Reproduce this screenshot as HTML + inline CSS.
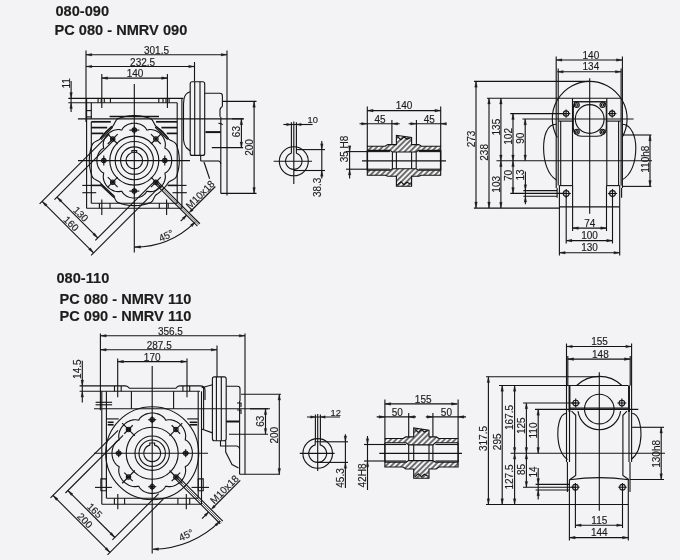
<!DOCTYPE html>
<html><head><meta charset="utf-8"><style>
html,body{margin:0;padding:0;background:#f3f3f5;}
body{width:680px;height:560px;overflow:hidden;}
svg{display:block;will-change:transform;}
svg text{font-family:"Liberation Sans",sans-serif;fill:#1c1c1c;stroke:#1c1c1c;stroke-width:0.15;}
svg .a{fill:#1c1c1c;stroke:#1c1c1c;stroke-width:0.3;}
</style></head><body>
<svg width="680" height="560" viewBox="0 0 680 560" fill="none" stroke="#141414" stroke-width="1.12">
<defs><pattern id="hat" width="3.8" height="3.8" patternUnits="userSpaceOnUse" patternTransform="rotate(45)"><line x1="1.9" y1="-1" x2="1.9" y2="5" stroke="#141414" stroke-width="1.15"/></pattern></defs>
<text x="55.5" y="16" text-anchor="start" style="font-size:14.6px;font-weight:bold">080-090</text>
<text x="54.5" y="35.3" text-anchor="start" style="font-size:14.6px;font-weight:bold">PC 080 - NMRV 090</text>
<text x="56.5" y="283.4" text-anchor="start" style="font-size:14.6px;font-weight:bold">080-110</text>
<text x="59.5" y="303.8" text-anchor="start" style="font-size:14.6px;font-weight:bold">PC 080 - NMRV 110</text>
<text x="59.5" y="321" text-anchor="start" style="font-size:14.6px;font-weight:bold">PC 090 - NMRV 110</text>
<line x1="86" y1="54.7" x2="227" y2="54.7"/>
<path class="a" d="M86,54.7 L91.8,53.4 L91.8,56 Z"/>
<path class="a" d="M227,54.7 L221.2,56 L221.2,53.4 Z"/>
<text x="156.5" y="53.6" text-anchor="middle" style="font-size:10px">301.5</text>
<line x1="86" y1="66.5" x2="194.5" y2="66.5"/>
<path class="a" d="M86,66.5 L91.8,65.2 L91.8,67.8 Z"/>
<path class="a" d="M194.5,66.5 L188.7,67.8 L188.7,65.2 Z"/>
<text x="142.6" y="65.6" text-anchor="middle" style="font-size:10px">232.5</text>
<line x1="101.8" y1="78.1" x2="167.4" y2="78.1"/>
<path class="a" d="M101.8,78.1 L107.6,76.8 L107.6,79.4 Z"/>
<path class="a" d="M167.4,78.1 L161.6,79.4 L161.6,76.8 Z"/>
<text x="135" y="77" text-anchor="middle" style="font-size:10px">140</text>
<line x1="86" y1="50.5" x2="86" y2="122"/>
<line x1="227" y1="50.5" x2="227" y2="195.5"/>
<line x1="194.5" y1="62" x2="194.5" y2="81"/>
<line x1="101.8" y1="74" x2="101.8" y2="108"/>
<line x1="167.4" y1="74" x2="167.4" y2="108"/>
<line x1="68.3" y1="98.4" x2="183.5" y2="98.4"/>
<line x1="68.3" y1="102.8" x2="177.2" y2="102.8"/>
<line x1="71.1" y1="81" x2="71.1" y2="112"/>
<path class="a" d="M71.1,98.4 L69.8,92.6 L72.4,92.6 Z"/>
<path class="a" d="M71.1,102.8 L72.4,108.6 L69.8,108.6 Z"/>
<text transform="translate(69.9,83.4) rotate(-90)" text-anchor="middle" style="font-size:10px">11</text>
<line x1="98.1" y1="98.4" x2="98.1" y2="102.8"/>
<line x1="110.4" y1="98.4" x2="110.4" y2="102.8"/>
<line x1="158.8" y1="98.4" x2="158.8" y2="102.8"/>
<line x1="169.1" y1="98.4" x2="169.1" y2="102.8"/>
<line x1="101.2" y1="98.4" x2="101.2" y2="102.8"/>
<line x1="104.3" y1="98.4" x2="104.3" y2="102.8"/>
<line x1="163" y1="98.4" x2="163" y2="102.8"/>
<line x1="166" y1="98.4" x2="166" y2="102.8"/>
<line x1="86.6" y1="98.4" x2="86.6" y2="208.3"/>
<line x1="91.3" y1="102.8" x2="91.3" y2="118.8"/>
<line x1="91.3" y1="121.8" x2="91.3" y2="203.2"/>
<line x1="77.9" y1="118.9" x2="244" y2="118.9"/>
<line x1="177.2" y1="102.8" x2="177.2" y2="203.2"/>
<line x1="181.9" y1="98.4" x2="181.9" y2="208.3"/>
<line x1="86.6" y1="208.3" x2="181.9" y2="208.3"/>
<line x1="91.3" y1="203.2" x2="177.2" y2="203.2"/>
<line x1="86.6" y1="110.6" x2="91.3" y2="110.6"/>
<line x1="86.6" y1="116.9" x2="91.3" y2="116.9"/>
<line x1="82.3" y1="185.4" x2="91.3" y2="185.4"/>
<line x1="82.3" y1="192.7" x2="96.2" y2="192.7"/>
<line x1="177.2" y1="185.4" x2="186.5" y2="185.4"/>
<line x1="172.5" y1="192.7" x2="186.8" y2="192.7"/>
<line x1="91.3" y1="185.4" x2="101" y2="185.4" stroke-width="1.6"/>
<line x1="167.6" y1="185.4" x2="177.2" y2="185.4" stroke-width="1.6"/>
<line x1="91.3" y1="121.8" x2="110.8" y2="121.8" stroke-width="1.7"/>
<line x1="156" y1="121.8" x2="177.2" y2="121.8" stroke-width="1.7"/>
<line x1="91.3" y1="127.6" x2="107.2" y2="127.6" stroke-width="1.7"/>
<line x1="161.4" y1="127.6" x2="177.2" y2="127.6" stroke-width="1.7"/>
<line x1="91.3" y1="133.4" x2="103.5" y2="133.4" stroke-width="1.7"/>
<line x1="166.8" y1="133.4" x2="177.2" y2="133.4" stroke-width="1.7"/>
<line x1="100.1" y1="138.75" x2="111.7" y2="126.25"/>
<line x1="101.05" y1="139.63" x2="112.65" y2="127.13"/>
<line x1="156" y1="126.25" x2="168.6" y2="138.75"/>
<line x1="155.08" y1="127.17" x2="167.68" y2="139.67"/>
<line x1="101" y1="183.75" x2="114.8" y2="196.7"/>
<line x1="100.11" y1="184.7" x2="113.91" y2="197.65"/>
<line x1="109.6" y1="116.4" x2="159" y2="116.4" stroke-width="1.5"/>
<line x1="134.3" y1="84" x2="134.3" y2="252.5"/>
<line x1="78" y1="160.6" x2="190" y2="160.6"/>
<path d="M134.3,115.6 L135.87,115.63 L137.44,115.71 L139,115.85 L140.56,116.04 L142.11,116.28 L143.66,116.58 L145.19,116.94 L146.7,117.34 L148.21,117.8 L149.69,118.31 L151.12,118.96 L152.32,120.13 L153.28,121.68 L154.11,123.35 L154.9,124.92 L155.81,126.18 L156.95,127.02 L158.11,127.83 L159.23,128.69 L160.33,129.58 L161.4,130.5 L162.43,131.47 L163.43,132.47 L164.4,133.5 L165.32,134.57 L166.21,135.67 L167.07,136.79 L167.88,137.95 L168.72,139.09 L169.98,140 L171.55,140.79 L173.22,141.62 L174.77,142.58 L175.94,143.78 L176.59,145.21 L177.1,146.69 L177.56,148.2 L177.96,149.71 L178.32,151.24 L178.62,152.79 L178.86,154.34 L179.05,155.9 L179.19,157.46 L179.27,159.03 L179.3,160.6 L179.27,162.17 L179.19,163.74 L179.05,165.3 L178.86,166.86 L178.62,168.41 L178.32,169.96 L177.96,171.49 L177.56,173 L177.1,174.51 L176.59,175.99 L175.94,177.42 L174.77,178.62 L173.22,179.58 L171.55,180.41 L169.98,181.2 L168.72,182.11 L167.88,183.25 L167.07,184.41 L166.21,185.53 L165.32,186.63 L164.4,187.7 L163.43,188.73 L162.43,189.73 L161.4,190.7 L160.33,191.62 L159.23,192.51 L158.11,193.37 L156.95,194.18 L155.81,195.02 L154.9,196.28 L154.11,197.85 L153.28,199.52 L152.32,201.07 L151.12,202.24 L149.69,202.89 L148.21,203.4 L146.7,203.86 L145.19,204.26 L143.66,204.62 L142.11,204.92 L140.56,205.16 L139,205.35 L137.44,205.49 L135.87,205.57 L134.3,205.6 L132.73,205.57 L131.16,205.49 L129.6,205.35 L128.04,205.16 L126.49,204.92 L124.94,204.62 L123.41,204.26 L121.9,203.86 L120.39,203.4 L118.91,202.89 L117.48,202.24 L116.28,201.07 L115.32,199.52 L114.49,197.85 L113.7,196.28 L112.79,195.02 L111.65,194.18 L110.49,193.37 L109.37,192.51 L108.27,191.62 L107.2,190.7 L106.17,189.73 L105.17,188.73 L104.2,187.7 L103.28,186.63 L102.39,185.53 L101.53,184.41 L100.72,183.25 L99.88,182.11 L98.62,181.2 L97.05,180.41 L95.38,179.58 L93.83,178.62 L92.66,177.42 L92.01,175.99 L91.5,174.51 L91.04,173 L90.64,171.49 L90.28,169.96 L89.98,168.41 L89.74,166.86 L89.55,165.3 L89.41,163.74 L89.33,162.17 L89.3,160.6 L89.33,159.03 L89.41,157.46 L89.55,155.9 L89.74,154.34 L89.98,152.79 L90.28,151.24 L90.64,149.71 L91.04,148.2 L91.5,146.69 L92.01,145.21 L92.66,143.78 L93.83,142.58 L95.38,141.62 L97.05,140.79 L98.62,140 L99.88,139.09 L100.72,137.95 L101.53,136.79 L102.39,135.67 L103.28,134.57 L104.2,133.5 L105.17,132.47 L106.17,131.47 L107.2,130.5 L108.27,129.58 L109.37,128.69 L110.49,127.83 L111.65,127.02 L112.79,126.18 L113.7,124.92 L114.49,123.35 L115.32,121.68 L116.28,120.13 L117.48,118.96 L118.91,118.31 L120.39,117.8 L121.9,117.34 L123.41,116.94 L124.94,116.58 L126.49,116.28 L128.04,116.04 L129.6,115.85 L131.16,115.71 L132.73,115.63 Z"/>
<path d="M134.3,123.2 L135.6,123.25 L136.9,123.41 L138.18,123.67 L139.44,124.03 L140.67,124.5 L141.85,125.06 L142.99,125.74 L144.07,126.52 L145.08,127.44 L145.98,128.51 L146.69,129.94 L148,129.82 L149.44,129.56 L150.81,129.54 L152.15,129.68 L153.45,129.95 L154.71,130.34 L155.93,130.83 L157.1,131.41 L158.22,132.09 L159.28,132.86 L160.28,133.7 L161.2,134.62 L162.04,135.62 L162.81,136.68 L163.49,137.8 L164.07,138.97 L164.56,140.19 L164.95,141.45 L165.22,142.75 L165.36,144.09 L165.34,145.46 L165.08,146.9 L164.96,148.21 L166.39,148.92 L167.46,149.82 L168.38,150.83 L169.16,151.91 L169.84,153.05 L170.4,154.23 L170.87,155.46 L171.23,156.72 L171.49,158 L171.65,159.3 L171.7,160.6 L171.65,161.9 L171.49,163.2 L171.23,164.48 L170.87,165.74 L170.4,166.97 L169.84,168.15 L169.16,169.29 L168.38,170.37 L167.46,171.38 L166.39,172.28 L164.96,172.99 L165.08,174.3 L165.34,175.74 L165.36,177.11 L165.22,178.45 L164.95,179.75 L164.56,181.01 L164.07,182.23 L163.49,183.4 L162.81,184.52 L162.04,185.58 L161.2,186.58 L160.28,187.5 L159.28,188.34 L158.22,189.11 L157.1,189.79 L155.93,190.37 L154.71,190.86 L153.45,191.25 L152.15,191.52 L150.81,191.66 L149.44,191.64 L148,191.38 L146.69,191.26 L145.98,192.69 L145.08,193.76 L144.07,194.68 L142.99,195.46 L141.85,196.14 L140.67,196.7 L139.44,197.17 L138.18,197.53 L136.9,197.79 L135.6,197.95 L134.3,198 L133,197.95 L131.7,197.79 L130.42,197.53 L129.16,197.17 L127.93,196.7 L126.75,196.14 L125.61,195.46 L124.53,194.68 L123.52,193.76 L122.62,192.69 L121.91,191.26 L120.6,191.38 L119.16,191.64 L117.79,191.66 L116.45,191.52 L115.15,191.25 L113.89,190.86 L112.67,190.37 L111.5,189.79 L110.38,189.11 L109.32,188.34 L108.32,187.5 L107.4,186.58 L106.56,185.58 L105.79,184.52 L105.11,183.4 L104.53,182.23 L104.04,181.01 L103.65,179.75 L103.38,178.45 L103.24,177.11 L103.26,175.74 L103.52,174.3 L103.64,172.99 L102.21,172.28 L101.14,171.38 L100.22,170.37 L99.44,169.29 L98.76,168.15 L98.2,166.97 L97.73,165.74 L97.37,164.48 L97.11,163.2 L96.95,161.9 L96.9,160.6 L96.95,159.3 L97.11,158 L97.37,156.72 L97.73,155.46 L98.2,154.23 L98.76,153.05 L99.44,151.91 L100.22,150.83 L101.14,149.82 L102.21,148.92 L103.64,148.21 L103.52,146.9 L103.26,145.46 L103.24,144.09 L103.38,142.75 L103.65,141.45 L104.04,140.19 L104.53,138.97 L105.11,137.8 L105.79,136.68 L106.56,135.62 L107.4,134.62 L108.32,133.7 L109.32,132.86 L110.38,132.09 L111.5,131.41 L112.67,130.83 L113.89,130.34 L115.15,129.95 L116.45,129.68 L117.79,129.54 L119.16,129.56 L120.6,129.82 L121.91,129.94 L122.62,128.51 L123.52,127.44 L124.53,126.52 L125.61,125.74 L126.75,125.06 L127.93,124.5 L129.16,124.03 L130.42,123.67 L131.7,123.41 L133,123.25 Z"/>
<circle cx="134.3" cy="160.6" r="8.3"/>
<circle cx="134.3" cy="160.6" r="13.7"/>
<circle cx="134.3" cy="160.6" r="19.1"/>
<circle cx="134.3" cy="160.6" r="24.5"/>
<path d="M131.9,152.65 L131.9,150.6 L136.7,150.6 L136.7,152.65"/>
<circle cx="134.3" cy="130.1" r="1" fill="#1c1c1c"/>
<circle cx="134.3" cy="130.1" r="2.2"/>
<line x1="129.3" y1="130.1" x2="139.3" y2="130.1"/>
<line x1="134.3" y1="133.6" x2="134.3" y2="126.6"/>
<circle cx="155.87" cy="139.03" r="1" fill="#1c1c1c"/>
<circle cx="155.87" cy="139.03" r="2.2"/>
<line x1="150.92" y1="143.98" x2="160.82" y2="134.08"/>
<line x1="150.92" y1="134.08" x2="160.82" y2="143.98"/>
<circle cx="164.8" cy="160.6" r="1" fill="#1c1c1c"/>
<circle cx="164.8" cy="160.6" r="2.2"/>
<line x1="164.8" y1="155.6" x2="164.8" y2="165.6"/>
<line x1="161.3" y1="160.6" x2="168.3" y2="160.6"/>
<circle cx="155.87" cy="182.17" r="1" fill="#1c1c1c"/>
<circle cx="155.87" cy="182.17" r="2.2"/>
<line x1="150.92" y1="177.22" x2="160.82" y2="187.12"/>
<line x1="160.82" y1="177.22" x2="150.92" y2="187.12"/>
<circle cx="134.3" cy="191.1" r="1" fill="#1c1c1c"/>
<circle cx="134.3" cy="191.1" r="2.2"/>
<line x1="139.3" y1="191.1" x2="129.3" y2="191.1"/>
<line x1="134.3" y1="187.6" x2="134.3" y2="194.6"/>
<circle cx="112.73" cy="182.17" r="1" fill="#1c1c1c"/>
<circle cx="112.73" cy="182.17" r="2.2"/>
<line x1="117.68" y1="177.22" x2="107.78" y2="187.12"/>
<line x1="117.68" y1="187.12" x2="107.78" y2="177.22"/>
<circle cx="103.8" cy="160.6" r="1" fill="#1c1c1c"/>
<circle cx="103.8" cy="160.6" r="2.2"/>
<line x1="103.8" y1="165.6" x2="103.8" y2="155.6"/>
<line x1="107.3" y1="160.6" x2="100.3" y2="160.6"/>
<circle cx="112.73" cy="139.03" r="1" fill="#1c1c1c"/>
<circle cx="112.73" cy="139.03" r="2.2"/>
<line x1="117.68" y1="143.98" x2="107.78" y2="134.08"/>
<line x1="107.78" y1="143.98" x2="117.68" y2="134.08"/>
<line x1="99.4" y1="203.2" x2="99.4" y2="208.3"/>
<line x1="110" y1="203.2" x2="110" y2="208.3"/>
<line x1="101.8" y1="199.4" x2="101.8" y2="215"/>
<line x1="159.3" y1="203.2" x2="159.3" y2="208.3"/>
<line x1="168.2" y1="203.2" x2="168.2" y2="208.3"/>
<line x1="166.6" y1="199.4" x2="166.6" y2="215"/>
<line x1="42.09" y1="201.33" x2="93.57" y2="252.81"/>
<path class="a" d="M42.09,201.33 L47.11,204.51 L45.28,206.35 Z"/>
<path class="a" d="M93.57,252.81 L88.55,249.62 L90.39,247.79 Z"/>
<line x1="109.27" y1="134.15" x2="39.62" y2="203.8"/>
<line x1="160.75" y1="185.63" x2="91.1" y2="255.28"/>
<text transform="translate(68.75,226.15) rotate(45)" text-anchor="middle" style="font-size:10px">160</text>
<line x1="56.94" y1="197.09" x2="97.81" y2="237.96"/>
<path class="a" d="M56.94,197.09 L61.96,200.27 L60.12,202.11 Z"/>
<path class="a" d="M97.81,237.96 L92.79,234.78 L94.63,232.94 Z"/>
<line x1="114.57" y1="139.46" x2="54.47" y2="199.56"/>
<line x1="155.44" y1="180.33" x2="95.34" y2="240.43"/>
<text transform="translate(78.3,216.6) rotate(45)" text-anchor="middle" style="font-size:10px">130</text>
<path d="M194.39,222.82 A86.5,86.5 0 0 1 134.3,247.1"/>
<path class="a" d="M134.8,247.1 L140.56,245.63 L140.64,248.23 Z"/>
<path class="a" d="M195.46,221.76 L192.18,226.72 L190.38,224.84 Z"/>
<text transform="translate(167.5,238.8) rotate(-25)" text-anchor="middle" style="font-size:10px">45°</text>
<line x1="157.42" y1="181.32" x2="199.85" y2="223.74"/>
<line x1="156.22" y1="182.52" x2="198.65" y2="224.95" stroke-width="0.6"/>
<line x1="155.02" y1="183.72" x2="197.44" y2="226.15"/>
<line x1="190.59" y1="211.23" x2="215.33" y2="186.48"/>
<path class="a" d="M188.96,212.86 L191.43,208.54 L193.27,210.38 Z"/>
<line x1="186.56" y1="215.26" x2="180.69" y2="221.13"/>
<path class="a" d="M186.56,215.26 L184.08,219.57 L182.24,217.73 Z"/>
<text transform="translate(202.68,197.16) rotate(-45)" text-anchor="middle" style="font-size:10px">M10x18</text>
<path d="M192.2,81.7 L202.7,81.7 Q204.7,81.7 204.7,83.7 L204.7,153.4 Q204.7,155.4 202.7,155.4 L192.2,155.4 Q190.2,155.4 190.2,153.4 L190.2,83.7 Q190.2,81.7 192.2,81.7 Z"/>
<line x1="194.7" y1="81.7" x2="194.7" y2="155.4"/>
<line x1="200" y1="81.7" x2="200" y2="155.4"/>
<path d="M190.2,91.7 Q185,93 184,99 L183.5,104 L183.5,139.8 Q184,145 186.2,147.5 L190.2,151"/>
<path d="M204.7,93.3 L219.9,93.3 Q222.4,93.3 222.4,96 L222.4,106.5"/>
<line x1="220.8" y1="116.8" x2="220.8" y2="193.4"/>
<path d="M222.4,106.5 Q219.5,108 220,112 L220,116.8 M218.4,123.3 Q222.4,123.5 222.4,125"/>
<line x1="200.7" y1="155.4" x2="200.7" y2="161"/>
<line x1="200.7" y1="161" x2="219" y2="161"/>
<path d="M219,161 Q220.8,162 220.8,164"/>
<line x1="204" y1="162" x2="209.6" y2="178.8"/>
<line x1="205.5" y1="132.1" x2="220.8" y2="132.1" stroke-width="2.0"/>
<line x1="220.8" y1="193.4" x2="256.5" y2="193.4"/>
<line x1="223" y1="101.4" x2="256.5" y2="101.4"/>
<line x1="254.1" y1="101.4" x2="254.1" y2="193.4"/>
<path class="a" d="M254.1,101.4 L255.4,107.2 L252.8,107.2 Z"/>
<path class="a" d="M254.1,193.4 L252.8,187.6 L255.4,187.6 Z"/>
<text transform="translate(252.8,147.5) rotate(-90)" text-anchor="middle" style="font-size:10px">200</text>
<line x1="211.8" y1="147.6" x2="243.1" y2="147.6"/>
<line x1="232" y1="118.8" x2="243.1" y2="118.8"/>
<line x1="241.4" y1="118.9" x2="241.4" y2="147.9"/>
<path class="a" d="M241.4,118.9 L242.7,124.7 L240.1,124.7 Z"/>
<path class="a" d="M241.4,147.9 L240.1,142.1 L242.7,142.1 Z"/>
<text transform="translate(240.1,131.6) rotate(-90)" text-anchor="middle" style="font-size:10px">63</text>
<circle cx="293.8" cy="161.3" r="14.5"/>
<path d="M291.40000000000003,153.3 A8.2,8.2 0 1 0 296.2,153.3"/>
<line x1="291.4" y1="122.3" x2="291.4" y2="153.3"/>
<line x1="296.4" y1="122.3" x2="296.4" y2="153.3"/>
<line x1="273.6" y1="161.3" x2="312" y2="161.3"/>
<line x1="293.8" y1="121.4" x2="293.8" y2="184"/>
<line x1="283.4" y1="124.5" x2="312.6" y2="124.5"/>
<path class="a" d="M291.4,124.5 L286.6,125.8 L286.6,123.2 Z"/>
<path class="a" d="M296.4,124.5 L301.2,123.2 L301.2,125.8 Z"/>
<text x="307.6" y="123.4" text-anchor="start" style="font-size:9.3px">10</text>
<line x1="296.4" y1="149.6" x2="325" y2="149.6"/>
<line x1="293.8" y1="170.5" x2="325" y2="170.5"/>
<line x1="321.8" y1="141" x2="321.8" y2="178.6"/>
<path class="a" d="M321.8,149.6 L320.5,143.8 L323.1,143.8 Z"/>
<path class="a" d="M321.8,170.5 L323.1,176.3 L320.5,176.3 Z"/>
<text transform="translate(320.6,187.3) rotate(-90)" text-anchor="middle" style="font-size:10px">38.3</text>
<line x1="367.3" y1="110.6" x2="440.7" y2="110.6"/>
<path class="a" d="M367.3,110.6 L373.1,109.3 L373.1,111.9 Z"/>
<path class="a" d="M440.7,110.6 L434.9,111.9 L434.9,109.3 Z"/>
<text x="404" y="109.4" text-anchor="middle" style="font-size:10px">140</text>
<line x1="359.5" y1="123.8" x2="399.7" y2="123.8"/>
<path class="a" d="M367.3,123.8 L361.5,125.1 L361.5,122.5 Z"/>
<path class="a" d="M391.9,123.8 L397.7,122.5 L397.7,125.1 Z"/>
<line x1="408.6" y1="123.8" x2="446" y2="123.8"/>
<path class="a" d="M416.4,123.8 L410.6,125.1 L410.6,122.5 Z"/>
<path class="a" d="M440.7,123.8 L446.5,122.5 L446.5,125.1 Z"/>
<text x="380" y="122.5" text-anchor="middle" style="font-size:10px">45</text>
<text x="429.2" y="122.5" text-anchor="middle" style="font-size:10px">45</text>
<line x1="367.3" y1="106.5" x2="367.3" y2="146.2"/>
<line x1="440.7" y1="106.5" x2="440.7" y2="146.2"/>
<line x1="391.9" y1="120" x2="391.9" y2="144.6"/>
<line x1="416.4" y1="120" x2="416.4" y2="144.6"/>
<path d="M367.3,146.2 L385.1,146.2 L387.8,144.6 L396.4,144.6 L396.4,135.3 L411.6,137.5 L411.6,144.6 L418.8,144.6 L421.5,146.2 L440.7,146.2 L440.7,150.4 L418.7,150.4 L416.2,152 L392.4,152 L389.9,150.4 L367.3,150.4 Z" fill="url(#hat)"/>
<path d="M367.3,170.3 L389.9,170.3 L392.4,168.8 L416.2,168.8 L418.7,170.3 L440.7,170.3 L440.7,175.2 L421.5,175.2 L418.8,176.3 L411.6,176.3 L411.6,186.2 L396.4,186.2 L396.4,176.3 L387.8,176.3 L385.1,175.2 L367.3,175.2 Z" fill="url(#hat)"/>
<line x1="367.3" y1="151.6" x2="389.9" y2="151.6"/>
<line x1="418.7" y1="151.6" x2="440.7" y2="151.6"/>
<line x1="367.3" y1="169.2" x2="389.9" y2="169.2"/>
<line x1="418.7" y1="169.2" x2="440.7" y2="169.2"/>
<line x1="367.3" y1="150.4" x2="367.3" y2="170.3" stroke-width="1.6"/>
<line x1="440.7" y1="150.4" x2="440.7" y2="170.3" stroke-width="1.6"/>
<line x1="396.4" y1="152" x2="396.4" y2="168.8"/>
<line x1="411.6" y1="152" x2="411.6" y2="168.8"/>
<line x1="392.4" y1="152" x2="392.4" y2="168.8"/>
<line x1="416.2" y1="152" x2="416.2" y2="168.8"/>
<line x1="362" y1="160.9" x2="446" y2="160.9"/>
<path d="M397.4,136.5 L400.96,139.8 L404,136.8 L407.04,139.3 L410.6,137.8"/>
<path d="M397.4,185 L400.96,181.7 L404,184.7 L407.04,182.2 L410.6,184.2"/>
<line x1="346" y1="151.6" x2="367.3" y2="151.6"/>
<line x1="346" y1="169.2" x2="367.3" y2="169.2"/>
<line x1="349.6" y1="146" x2="349.6" y2="178.4"/>
<path class="a" d="M349.6,151.6 L348.3,145.8 L350.9,145.8 Z"/>
<path class="a" d="M349.6,169.2 L350.9,175 L348.3,175 Z"/>
<text transform="translate(348.4,149) rotate(-90)" text-anchor="middle" style="font-size:10px">35 H8</text>
<line x1="556.1" y1="60" x2="622.2" y2="60"/>
<path class="a" d="M556.1,60 L561.9,58.7 L561.9,61.3 Z"/>
<path class="a" d="M622.2,60 L616.4,61.3 L616.4,58.7 Z"/>
<text x="590.9" y="58.9" text-anchor="middle" style="font-size:10px">140</text>
<line x1="557.4" y1="71.8" x2="621.2" y2="71.8"/>
<path class="a" d="M557.4,71.8 L563.2,70.5 L563.2,73.1 Z"/>
<path class="a" d="M621.2,71.8 L615.4,73.1 L615.4,70.5 Z"/>
<text x="590.9" y="70.3" text-anchor="middle" style="font-size:10px">134</text>
<line x1="556.2" y1="56.5" x2="556.2" y2="188"/>
<line x1="558.2" y1="68.5" x2="558.2" y2="185.6"/>
<line x1="621.1" y1="68.5" x2="621.1" y2="185.6"/>
<line x1="622.4" y1="56.5" x2="622.4" y2="188"/>
<line x1="559.4" y1="185.6" x2="559.4" y2="255.5"/>
<line x1="566.2" y1="196" x2="566.2" y2="243.5"/>
<line x1="572.6" y1="185.6" x2="572.6" y2="231"/>
<line x1="619.7" y1="185.6" x2="619.7" y2="255.5"/>
<line x1="612.5" y1="196" x2="612.5" y2="243.5"/>
<line x1="606.5" y1="185.6" x2="606.5" y2="231"/>
<line x1="557.1" y1="188" x2="557.1" y2="197.8"/>
<line x1="621.6" y1="188" x2="621.6" y2="197.8"/>
<line x1="474" y1="81.4" x2="589.7" y2="81.4"/>
<line x1="487" y1="98.2" x2="558.4" y2="98.2"/>
<line x1="510.2" y1="113.6" x2="566" y2="113.6"/>
<line x1="522.4" y1="119" x2="633.6" y2="119"/>
<line x1="496.5" y1="160.8" x2="652" y2="160.8"/>
<line x1="473.9" y1="208.1" x2="559.4" y2="208.1"/>
<line x1="476" y1="81.4" x2="476" y2="207.9"/>
<path class="a" d="M476,81.4 L477.3,87.2 L474.7,87.2 Z"/>
<path class="a" d="M476,207.9 L474.7,202.1 L477.3,202.1 Z"/>
<text transform="translate(474.8,139) rotate(-90)" text-anchor="middle" style="font-size:10px">273</text>
<line x1="489" y1="98.2" x2="489" y2="207.9"/>
<path class="a" d="M489,98.2 L490.3,104 L487.7,104 Z"/>
<path class="a" d="M489,207.9 L487.7,202.1 L490.3,202.1 Z"/>
<text transform="translate(487.8,152.4) rotate(-90)" text-anchor="middle" style="font-size:10px">238</text>
<line x1="500.9" y1="98.2" x2="500.9" y2="160.8"/>
<path class="a" d="M500.9,98.2 L502.2,104 L499.6,104 Z"/>
<path class="a" d="M500.9,160.8 L499.6,155 L502.2,155 Z"/>
<text transform="translate(499.7,127.1) rotate(-90)" text-anchor="middle" style="font-size:10px">135</text>
<line x1="500.9" y1="160.8" x2="500.9" y2="208.1"/>
<path class="a" d="M500.9,160.8 L502.2,166.6 L499.6,166.6 Z"/>
<path class="a" d="M500.9,208.1 L499.6,202.3 L502.2,202.3 Z"/>
<text transform="translate(499.7,184.3) rotate(-90)" text-anchor="middle" style="font-size:10px">103</text>
<line x1="513" y1="113.6" x2="513" y2="160.8"/>
<path class="a" d="M513,113.6 L514.3,119.4 L511.7,119.4 Z"/>
<path class="a" d="M513,160.8 L511.7,155 L514.3,155 Z"/>
<text transform="translate(511.8,136.4) rotate(-90)" text-anchor="middle" style="font-size:10px">102</text>
<line x1="513" y1="160.8" x2="513" y2="193.4"/>
<path class="a" d="M513,160.8 L514.3,166.6 L511.7,166.6 Z"/>
<path class="a" d="M513,193.4 L511.7,187.6 L514.3,187.6 Z"/>
<text transform="translate(511.8,175.5) rotate(-90)" text-anchor="middle" style="font-size:10px">70</text>
<line x1="525.2" y1="119" x2="525.2" y2="160.8"/>
<path class="a" d="M525.2,119 L526.5,124.8 L523.9,124.8 Z"/>
<path class="a" d="M525.2,160.8 L523.9,155 L526.5,155 Z"/>
<text transform="translate(524,138.2) rotate(-90)" text-anchor="middle" style="font-size:10px">90</text>
<line x1="525.4" y1="171.6" x2="525.4" y2="204.3"/>
<path class="a" d="M525.4,190.5 L524.1,184.7 L526.7,184.7 Z"/>
<path class="a" d="M525.4,196.3 L526.7,202.1 L524.1,202.1 Z"/>
<text transform="translate(524,175) rotate(-90)" text-anchor="middle" style="font-size:10px">13</text>
<line x1="510.3" y1="193.4" x2="566" y2="193.4"/>
<line x1="523.3" y1="190.6" x2="557.1" y2="190.6"/>
<line x1="523.3" y1="196.2" x2="557.1" y2="196.2"/>
<path d="M557.3,137.4 A37.4,37.4 0 1 1 622.1,137.4"/>
<line x1="558.4" y1="98.2" x2="620.8" y2="98.2"/>
<path d="M572.5,98.2 L572.5,101.8 L606.8,101.8 L606.8,98.2"/>
<line x1="558.4" y1="121.1" x2="572.5" y2="121.1"/>
<line x1="606.8" y1="121.1" x2="620.8" y2="121.1"/>
<line x1="560.7" y1="121.1" x2="560.7" y2="185.6"/>
<line x1="572.5" y1="101.8" x2="572.5" y2="185.6"/>
<line x1="606.8" y1="101.8" x2="606.8" y2="185.6"/>
<line x1="618.6" y1="121.1" x2="618.6" y2="185.6"/>
<circle cx="589.7" cy="119" r="14.4"/>
<path d="M575,101.8 L604.5,101.8 Q606.5,104 606.3,110 L606.3,128 Q606,136 597,136.3 L582,136.3 Q573.5,136 573.3,128 L573.3,110 Q573.3,104 575,101.8 Z"/>
<circle cx="576.8" cy="105" r="2.5"/>
<circle cx="576.8" cy="105" r="1.2"/>
<circle cx="602.5" cy="105" r="2.5"/>
<circle cx="602.5" cy="105" r="1.2"/>
<circle cx="576.8" cy="131.8" r="2.5"/>
<circle cx="576.8" cy="131.8" r="1.2"/>
<circle cx="602.5" cy="131.8" r="2.5"/>
<circle cx="602.5" cy="131.8" r="1.2"/>
<circle cx="566.1" cy="113.6" r="2.7"/>
<line x1="561.9" y1="113.6" x2="570.3" y2="113.6"/>
<line x1="566.1" y1="109.4" x2="566.1" y2="117.8"/>
<circle cx="612.2" cy="113.6" r="2.7"/>
<line x1="608" y1="113.6" x2="616.4" y2="113.6"/>
<line x1="612.2" y1="109.4" x2="612.2" y2="117.8"/>
<line x1="589.7" y1="78.2" x2="589.7" y2="213.7"/>
<path d="M556.4,124.3 C546,124 543.6,138 543.6,148 C543.6,162 548,175 556.4,180"/>
<path d="M621.8,124.3 C632,124 635.8,138 635.8,148 C635.8,162 631.5,175 621.8,180"/>
<line x1="622" y1="135" x2="651.4" y2="135"/>
<line x1="622" y1="186.4" x2="651.4" y2="186.4"/>
<line x1="650" y1="135" x2="650" y2="186.4"/>
<path class="a" d="M650,135 L651.3,140.8 L648.7,140.8 Z"/>
<path class="a" d="M650,186.4 L648.7,180.6 L651.3,180.6 Z"/>
<text transform="translate(648.6,159.2) rotate(-90)" text-anchor="middle" style="font-size:10px">110h8</text>
<path d="M559.4,185.6 L572.6,185.6"/>
<path d="M606.5,185.6 L619.7,185.6"/>
<line x1="559.4" y1="206.9" x2="619.7" y2="206.9"/>
<circle cx="566.2" cy="193.5" r="2.9"/>
<line x1="561.6" y1="193.5" x2="570.8" y2="193.5"/>
<line x1="566.2" y1="188.9" x2="566.2" y2="198.1"/>
<circle cx="612.5" cy="193.5" r="2.9"/>
<line x1="607.9" y1="193.5" x2="617.1" y2="193.5"/>
<line x1="612.5" y1="188.9" x2="612.5" y2="198.1"/>
<line x1="572.6" y1="228.1" x2="606.5" y2="228.1"/>
<path class="a" d="M572.6,228.1 L578.4,226.8 L578.4,229.4 Z"/>
<path class="a" d="M606.5,228.1 L600.7,229.4 L600.7,226.8 Z"/>
<text x="589.8" y="226.7" text-anchor="middle" style="font-size:10px">74</text>
<line x1="566.2" y1="240.6" x2="612.5" y2="240.6"/>
<path class="a" d="M566.2,240.6 L572,239.3 L572,241.9 Z"/>
<path class="a" d="M612.5,240.6 L606.7,241.9 L606.7,239.3 Z"/>
<text x="589.5" y="239" text-anchor="middle" style="font-size:10px">100</text>
<line x1="559.4" y1="252.7" x2="619.7" y2="252.7"/>
<path class="a" d="M559.4,252.7 L565.2,251.4 L565.2,254 Z"/>
<path class="a" d="M619.7,252.7 L613.9,254 L613.9,251.4 Z"/>
<text x="589.5" y="251.1" text-anchor="middle" style="font-size:10px">130</text>
<line x1="100.4" y1="335.8" x2="245" y2="335.8"/>
<path class="a" d="M100.4,335.8 L106.2,334.5 L106.2,337.1 Z"/>
<path class="a" d="M245,335.8 L239.2,337.1 L239.2,334.5 Z"/>
<text x="170.4" y="334.5" text-anchor="middle" style="font-size:10px">356.5</text>
<line x1="100.4" y1="349.8" x2="217" y2="349.8"/>
<path class="a" d="M100.4,349.8 L106.2,348.5 L106.2,351.1 Z"/>
<path class="a" d="M217,349.8 L211.2,351.1 L211.2,348.5 Z"/>
<text x="159.2" y="348.9" text-anchor="middle" style="font-size:10px">287.5</text>
<line x1="117.7" y1="361.6" x2="186.6" y2="361.6"/>
<path class="a" d="M117.7,361.6 L123.5,360.3 L123.5,362.9 Z"/>
<path class="a" d="M186.6,361.6 L180.8,362.9 L180.8,360.3 Z"/>
<text x="152.2" y="360.8" text-anchor="middle" style="font-size:10px">170</text>
<line x1="100.4" y1="333.6" x2="100.4" y2="410.2"/>
<line x1="245" y1="333.6" x2="245" y2="474.3"/>
<line x1="217" y1="345.5" x2="217" y2="377"/>
<line x1="117.7" y1="358.6" x2="117.7" y2="397.2"/>
<line x1="187" y1="358.6" x2="187" y2="397.2"/>
<path d="M79.6,385.9 L125.4,385.9 Q127.5,385.9 129.6,388.3 L175.9,388.3 Q177.5,385.9 179.5,385.9 L200,385.9"/>
<line x1="79.6" y1="391.3" x2="200" y2="391.3"/>
<line x1="82.3" y1="360.7" x2="82.3" y2="402.5"/>
<path class="a" d="M82.3,385.9 L81,380.1 L83.6,380.1 Z"/>
<path class="a" d="M82.3,391.3 L83.6,397.1 L81,397.1 Z"/>
<text transform="translate(81.1,369.2) rotate(-90)" text-anchor="middle" style="font-size:10px">14.5</text>
<line x1="114.5" y1="385.9" x2="114.5" y2="391.3"/>
<line x1="121.2" y1="385.9" x2="121.2" y2="391.3"/>
<line x1="182.9" y1="385.9" x2="182.9" y2="391.3"/>
<line x1="189.7" y1="385.9" x2="189.7" y2="391.3"/>
<line x1="101.8" y1="391.3" x2="101.8" y2="504.3"/>
<line x1="106.4" y1="391.3" x2="106.4" y2="498.3"/>
<line x1="198.2" y1="391.3" x2="198.2" y2="498.3"/>
<line x1="201.5" y1="391.3" x2="201.5" y2="504.3"/>
<path d="M200,385.9 Q205,385.9 205,390 L205,400"/>
<line x1="94" y1="408.8" x2="270" y2="408.8"/>
<line x1="131.4" y1="391.3" x2="131.4" y2="408.8"/>
<line x1="173.6" y1="391.3" x2="173.6" y2="408.8"/>
<line x1="95.6" y1="402.3" x2="112.1" y2="402.3"/>
<line x1="95.6" y1="404.8" x2="112.1" y2="404.8"/>
<line x1="101.8" y1="504.3" x2="201.5" y2="504.3"/>
<line x1="106.4" y1="498.3" x2="198.2" y2="498.3"/>
<line x1="106.4" y1="418.9" x2="118.7" y2="418.9"/>
<line x1="187.2" y1="418.9" x2="198.2" y2="418.9"/>
<line x1="107.7" y1="422.3" x2="113.6" y2="422.3" stroke-width="1.6"/>
<line x1="189.7" y1="422.3" x2="197.3" y2="422.3" stroke-width="1.6"/>
<line x1="107.7" y1="424.8" x2="113.6" y2="424.8" stroke-width="1.6"/>
<line x1="189.7" y1="424.8" x2="197.3" y2="424.8" stroke-width="1.6"/>
<path d="M100.9,478.9 L106.4,478.9 L106.4,490.7 L100.9,490.7 Z"/>
<path d="M198.2,478.9 L203.2,478.9 L203.2,490.7 L198.2,490.7 Z"/>
<line x1="95" y1="487.4" x2="111.9" y2="487.4"/>
<line x1="191.5" y1="487.4" x2="209" y2="487.4"/>
<line x1="114.4" y1="498.3" x2="114.4" y2="504.3"/>
<line x1="124.6" y1="498.3" x2="124.6" y2="504.3"/>
<line x1="117.8" y1="494.1" x2="117.8" y2="509.3"/>
<line x1="177.9" y1="498.3" x2="177.9" y2="504.3"/>
<line x1="189.7" y1="498.3" x2="189.7" y2="504.3"/>
<line x1="186.3" y1="494.1" x2="186.3" y2="509.3"/>
<line x1="152.2" y1="366" x2="152.2" y2="553.6"/>
<line x1="94" y1="453.2" x2="208" y2="453.2"/>
<circle cx="152.2" cy="453.2" r="46.5"/>
<path d="M152.2,413 L153.6,413.05 L155,413.22 L156.37,413.49 L157.73,413.88 L159.05,414.37 L160.33,414.97 L161.55,415.68 L162.72,416.51 L163.81,417.47 L164.79,418.6 L165.57,420.1 L166.98,420 L168.52,419.75 L169.99,419.75 L171.42,419.92 L172.81,420.22 L174.16,420.65 L175.46,421.18 L176.72,421.82 L177.92,422.55 L179.05,423.38 L180.12,424.29 L181.11,425.28 L182.02,426.35 L182.85,427.48 L183.58,428.68 L184.22,429.94 L184.75,431.24 L185.18,432.59 L185.48,433.98 L185.65,435.41 L185.65,436.88 L185.4,438.42 L185.3,439.83 L186.8,440.61 L187.93,441.59 L188.89,442.68 L189.72,443.85 L190.43,445.07 L191.03,446.35 L191.52,447.67 L191.91,449.03 L192.18,450.4 L192.35,451.8 L192.4,453.2 L192.35,454.6 L192.18,456 L191.91,457.37 L191.52,458.73 L191.03,460.05 L190.43,461.33 L189.72,462.55 L188.89,463.72 L187.93,464.81 L186.8,465.79 L185.3,466.57 L185.4,467.98 L185.65,469.52 L185.65,470.99 L185.48,472.42 L185.18,473.81 L184.75,475.16 L184.22,476.46 L183.58,477.72 L182.85,478.92 L182.02,480.05 L181.11,481.12 L180.12,482.11 L179.05,483.02 L177.92,483.85 L176.72,484.58 L175.46,485.22 L174.16,485.75 L172.81,486.18 L171.42,486.48 L169.99,486.65 L168.52,486.65 L166.98,486.4 L165.57,486.3 L164.79,487.8 L163.81,488.93 L162.72,489.89 L161.55,490.72 L160.33,491.43 L159.05,492.03 L157.73,492.52 L156.37,492.91 L155,493.18 L153.6,493.35 L152.2,493.4 L150.8,493.35 L149.4,493.18 L148.03,492.91 L146.67,492.52 L145.35,492.03 L144.07,491.43 L142.85,490.72 L141.68,489.89 L140.59,488.93 L139.61,487.8 L138.83,486.3 L137.42,486.4 L135.88,486.65 L134.41,486.65 L132.98,486.48 L131.59,486.18 L130.24,485.75 L128.94,485.22 L127.68,484.58 L126.48,483.85 L125.35,483.02 L124.28,482.11 L123.29,481.12 L122.38,480.05 L121.55,478.92 L120.82,477.72 L120.18,476.46 L119.65,475.16 L119.22,473.81 L118.92,472.42 L118.75,470.99 L118.75,469.52 L119,467.98 L119.1,466.57 L117.6,465.79 L116.47,464.81 L115.51,463.72 L114.68,462.55 L113.97,461.33 L113.37,460.05 L112.88,458.73 L112.49,457.37 L112.22,456 L112.05,454.6 L112,453.2 L112.05,451.8 L112.22,450.4 L112.49,449.03 L112.88,447.67 L113.37,446.35 L113.97,445.07 L114.68,443.85 L115.51,442.68 L116.47,441.59 L117.6,440.61 L119.1,439.83 L119,438.42 L118.75,436.88 L118.75,435.41 L118.92,433.98 L119.22,432.59 L119.65,431.24 L120.18,429.94 L120.82,428.68 L121.55,427.48 L122.38,426.35 L123.29,425.28 L124.28,424.29 L125.35,423.38 L126.48,422.55 L127.68,421.82 L128.94,421.18 L130.24,420.65 L131.59,420.22 L132.98,419.92 L134.41,419.75 L135.88,419.75 L137.42,420 L138.83,420.1 L139.61,418.6 L140.59,417.47 L141.68,416.51 L142.85,415.68 L144.07,414.97 L145.35,414.37 L146.67,413.88 L148.03,413.49 L149.4,413.22 L150.8,413.05 Z"/>
<circle cx="152.2" cy="453.2" r="26"/>
<circle cx="152.2" cy="453.2" r="17.2"/>
<circle cx="152.2" cy="453.2" r="13.2"/>
<path d="M149.79999999999998,445.15 A8.4,8.4 0 1 0 154.6,445.15 L154.6,443.0 L149.79999999999998,443.0 Z"/>
<circle cx="152.2" cy="419.7" r="1" fill="#1c1c1c"/>
<circle cx="152.2" cy="419.7" r="2.2"/>
<line x1="148.2" y1="419.7" x2="156.2" y2="419.7"/>
<line x1="152.2" y1="423.2" x2="152.2" y2="416.2"/>
<circle cx="175.89" cy="429.51" r="1" fill="#1c1c1c"/>
<circle cx="175.89" cy="429.51" r="2.2"/>
<line x1="169.52" y1="435.88" x2="182.25" y2="423.15"/>
<line x1="171.65" y1="425.27" x2="180.13" y2="433.75"/>
<circle cx="185.7" cy="453.2" r="1" fill="#1c1c1c"/>
<circle cx="185.7" cy="453.2" r="2.2"/>
<line x1="185.7" y1="449.2" x2="185.7" y2="457.2"/>
<line x1="182.2" y1="453.2" x2="189.2" y2="453.2"/>
<circle cx="175.89" cy="476.89" r="1" fill="#1c1c1c"/>
<circle cx="175.89" cy="476.89" r="2.2"/>
<line x1="169.52" y1="470.52" x2="182.25" y2="483.25"/>
<line x1="180.13" y1="472.65" x2="171.65" y2="481.13"/>
<circle cx="152.2" cy="486.7" r="1" fill="#1c1c1c"/>
<circle cx="152.2" cy="486.7" r="2.2"/>
<line x1="156.2" y1="486.7" x2="148.2" y2="486.7"/>
<line x1="152.2" y1="483.2" x2="152.2" y2="490.2"/>
<circle cx="128.51" cy="476.89" r="1" fill="#1c1c1c"/>
<circle cx="128.51" cy="476.89" r="2.2"/>
<line x1="134.88" y1="470.52" x2="122.15" y2="483.25"/>
<line x1="132.75" y1="481.13" x2="124.27" y2="472.65"/>
<circle cx="118.7" cy="453.2" r="1" fill="#1c1c1c"/>
<circle cx="118.7" cy="453.2" r="2.2"/>
<line x1="118.7" y1="457.2" x2="118.7" y2="449.2"/>
<line x1="122.2" y1="453.2" x2="115.2" y2="453.2"/>
<circle cx="128.51" cy="429.51" r="1" fill="#1c1c1c"/>
<circle cx="128.51" cy="429.51" r="2.2"/>
<line x1="134.88" y1="435.88" x2="122.15" y2="423.15"/>
<line x1="124.27" y1="433.75" x2="132.75" y2="425.27"/>
<line x1="52.99" y1="495.41" x2="109.99" y2="552.41"/>
<path class="a" d="M52.99,495.41 L58.01,498.6 L56.17,500.43 Z"/>
<path class="a" d="M109.99,552.41 L104.97,549.23 L106.8,547.39 Z"/>
<line x1="118.05" y1="430.36" x2="50.52" y2="497.89"/>
<line x1="163.73" y1="498.67" x2="107.51" y2="554.88"/>
<text transform="translate(82.41,522.99) rotate(45)" text-anchor="middle" style="font-size:10px">200</text>
<line x1="67.91" y1="490.54" x2="114.86" y2="537.49"/>
<path class="a" d="M67.91,490.54 L72.93,493.72 L71.09,495.56 Z"/>
<path class="a" d="M114.86,537.49 L109.84,534.31 L111.68,532.47 Z"/>
<line x1="123.07" y1="435.38" x2="65.44" y2="493.01"/>
<line x1="158.71" y1="493.65" x2="112.39" y2="539.96"/>
<text transform="translate(92.31,513.09) rotate(45)" text-anchor="middle" style="font-size:10px">165</text>
<path d="M153.2,549.2 A96,96 0 0 0 220.08225099390856,521.0822509939086"/>
<path class="a" d="M152.7,549.2 L158.47,547.78 L158.52,550.38 Z"/>
<path class="a" d="M220.08,521.08 L216.79,526.03 L215,524.16 Z"/>
<text transform="translate(187.5,538.2) rotate(-25)" text-anchor="middle" style="font-size:10px">45°</text>
<line x1="177.16" y1="475.62" x2="222.77" y2="521.22"/>
<line x1="175.89" y1="476.89" x2="221.5" y2="522.5" stroke-width="0.6"/>
<line x1="174.62" y1="478.16" x2="220.22" y2="523.77"/>
<line x1="212.66" y1="508" x2="240.23" y2="480.42"/>
<path class="a" d="M211.1,509.56 L213.58,505.24 L215.42,507.08 Z"/>
<line x1="208.56" y1="512.1" x2="202.05" y2="518.61"/>
<path class="a" d="M208.56,512.1 L206.08,516.42 L204.24,514.58 Z"/>
<text transform="translate(226.87,491.81) rotate(-45)" text-anchor="middle" style="font-size:10px">M10x18</text>
<path d="M214.4,376.9 L224.2,376.9 Q226.2,376.9 226.2,378.9 L226.2,438.8 Q226.2,440.8 224.2,440.8 L214.4,440.8 Q212.4,440.8 212.4,438.8 L212.4,378.9 Q212.4,376.9 214.4,376.9 Z"/>
<line x1="216.4" y1="376.9" x2="216.4" y2="440.8"/>
<line x1="221.3" y1="376.9" x2="221.3" y2="440.8"/>
<path d="M212.5,384.7 L201.6,387.7 M201.6,429 L212.5,432.9"/>
<line x1="203.6" y1="387.2" x2="203.6" y2="429.5"/>
<path d="M226.3,386.3 L237.5,386.3 Q240,386.3 240,389 L240,401"/>
<line x1="239.6" y1="401" x2="239.6" y2="474.3"/>
<path d="M237,403 L241,403 L241,407 M237,410 L241,410 L241,414"/>
<path d="M220.5,441 L220.5,446 L237,446 Q239.6,447 239.6,449"/>
<path d="M225.7,441 L225.7,452 L232,464.6 L238.6,467.9"/>
<line x1="226.2" y1="421.5" x2="239.3" y2="421.5" stroke-width="2.0"/>
<line x1="239.6" y1="474.3" x2="280" y2="474.3"/>
<line x1="241" y1="394.3" x2="281" y2="394.3"/>
<line x1="279.3" y1="394.3" x2="279.3" y2="474.3"/>
<path class="a" d="M279.3,394.3 L280.6,400.1 L278,400.1 Z"/>
<path class="a" d="M279.3,474.3 L278,468.5 L280.6,468.5 Z"/>
<text transform="translate(278,435.2) rotate(-90)" text-anchor="middle" style="font-size:10px">200</text>
<line x1="229" y1="434.2" x2="268" y2="434.2"/>
<line x1="250" y1="408.8" x2="268" y2="408.8"/>
<line x1="265.5" y1="408.8" x2="265.5" y2="434.2"/>
<path class="a" d="M265.5,408.8 L266.8,414.6 L264.2,414.6 Z"/>
<path class="a" d="M265.5,434.2 L264.2,428.4 L266.8,428.4 Z"/>
<text transform="translate(264.2,421.2) rotate(-90)" text-anchor="middle" style="font-size:10px">63</text>
<circle cx="317.7" cy="453.4" r="14.8"/>
<path d="M315.2,444.9 A8.9,8.9 0 1 0 320.2,444.9 L320.2,441.79999999999995 L315.2,441.79999999999995 Z"/>
<line x1="315.4" y1="414.6" x2="315.4" y2="441.8"/>
<line x1="320.4" y1="414.6" x2="320.4" y2="441.8"/>
<line x1="299.8" y1="453.4" x2="334.6" y2="453.4"/>
<line x1="317.7" y1="414" x2="317.7" y2="470.9"/>
<line x1="307" y1="417" x2="340" y2="417"/>
<path class="a" d="M315.4,417 L310.6,418.3 L310.6,415.7 Z"/>
<path class="a" d="M320.4,417 L325.2,415.7 L325.2,418.3 Z"/>
<text x="330.6" y="416.3" text-anchor="start" style="font-size:9.3px">12</text>
<line x1="320.4" y1="441.8" x2="348" y2="441.8"/>
<line x1="317.7" y1="462.4" x2="348" y2="462.4"/>
<line x1="345.4" y1="434.3" x2="345.4" y2="487.9"/>
<path class="a" d="M345.4,441.8 L344.1,436 L346.7,436 Z"/>
<path class="a" d="M345.4,462.4 L346.7,468.2 L344.1,468.2 Z"/>
<text transform="translate(344.2,478) rotate(-90)" text-anchor="middle" style="font-size:10px">45.3</text>
<line x1="384.9" y1="403.9" x2="457.3" y2="403.9"/>
<path class="a" d="M384.9,403.9 L390.7,402.6 L390.7,405.2 Z"/>
<path class="a" d="M457.3,403.9 L451.5,405.2 L451.5,402.6 Z"/>
<text x="423.2" y="402.9" text-anchor="middle" style="font-size:10px">155</text>
<line x1="376.7" y1="416.9" x2="416" y2="416.9"/>
<path class="a" d="M384.9,416.9 L379.1,418.2 L379.1,415.6 Z"/>
<path class="a" d="M408.7,416.9 L414.5,415.6 L414.5,418.2 Z"/>
<line x1="425.8" y1="416.9" x2="466" y2="416.9"/>
<path class="a" d="M432.9,416.9 L427.1,418.2 L427.1,415.6 Z"/>
<path class="a" d="M458.1,416.9 L463.9,415.6 L463.9,418.2 Z"/>
<text x="397.3" y="415.7" text-anchor="middle" style="font-size:10px">50</text>
<text x="446.4" y="415.7" text-anchor="middle" style="font-size:10px">50</text>
<line x1="384.9" y1="399.5" x2="384.9" y2="438.5"/>
<line x1="458.1" y1="399.5" x2="458.1" y2="438.5"/>
<line x1="408.7" y1="413" x2="408.7" y2="436.9"/>
<line x1="432.9" y1="413" x2="432.9" y2="436.9"/>
<path d="M384.9,438.5 L403.1,438.5 L405.8,436.9 L413.7,436.9 L413.7,428 L429,430.2 L429,436.9 L436.2,436.9 L438.9,438.5 L458.1,438.5 L458.1,442.8 L435.4,442.8 L432.9,444.9 L408.7,444.9 L406.2,442.8 L384.9,442.8 Z" fill="url(#hat)"/>
<path d="M384.9,462.1 L406.2,462.1 L408.7,460.6 L432.9,460.6 L435.4,462.1 L458.1,462.1 L458.1,467 L438.9,467 L436.2,469 L429,469 L429,478.2 L413.7,478.2 L413.7,469 L405.8,469 L403.1,467 L384.9,467 Z" fill="url(#hat)"/>
<line x1="384.9" y1="444.5" x2="406.2" y2="444.5"/>
<line x1="435.4" y1="444.5" x2="458.1" y2="444.5"/>
<line x1="384.9" y1="461" x2="406.2" y2="461"/>
<line x1="435.4" y1="461" x2="458.1" y2="461"/>
<line x1="384.9" y1="442.8" x2="384.9" y2="462.1" stroke-width="1.6"/>
<line x1="458.1" y1="442.8" x2="458.1" y2="462.1" stroke-width="1.6"/>
<line x1="413.7" y1="444.9" x2="413.7" y2="460.6"/>
<line x1="429" y1="444.9" x2="429" y2="460.6"/>
<line x1="408.7" y1="444.9" x2="408.7" y2="460.6"/>
<line x1="432.9" y1="444.9" x2="432.9" y2="460.6"/>
<line x1="379.3" y1="453.4" x2="462" y2="453.4"/>
<path d="M414.7,429.2 L418.29,432.5 L421.35,429.5 L424.41,432 L428,430.5"/>
<path d="M414.7,477 L418.29,473.7 L421.35,476.7 L424.41,474.2 L428,476.2"/>
<line x1="364" y1="444.5" x2="384.9" y2="444.5"/>
<line x1="364" y1="461" x2="384.9" y2="461"/>
<line x1="367.5" y1="436" x2="367.5" y2="490"/>
<path class="a" d="M367.5,444.5 L366.2,438.7 L368.8,438.7 Z"/>
<path class="a" d="M367.5,461 L368.8,466.8 L366.2,466.8 Z"/>
<text transform="translate(366.3,475.5) rotate(-90)" text-anchor="middle" style="font-size:10px">42H8</text>
<line x1="566.5" y1="346.5" x2="631.6" y2="346.5"/>
<path class="a" d="M566.5,346.5 L572.3,345.2 L572.3,347.8 Z"/>
<path class="a" d="M631.6,346.5 L625.8,347.8 L625.8,345.2 Z"/>
<text x="599.5" y="345.3" text-anchor="middle" style="font-size:10px">155</text>
<line x1="567.8" y1="359.1" x2="630.2" y2="359.1"/>
<path class="a" d="M567.8,359.1 L573.6,357.8 L573.6,360.4 Z"/>
<path class="a" d="M630.2,359.1 L624.4,360.4 L624.4,357.8 Z"/>
<text x="600.4" y="357.9" text-anchor="middle" style="font-size:10px">148</text>
<line x1="566.5" y1="343.5" x2="566.5" y2="462"/>
<line x1="567.8" y1="356" x2="567.8" y2="385.5"/>
<line x1="569.5" y1="385.5" x2="569.5" y2="462"/>
<line x1="629" y1="385.5" x2="629" y2="462"/>
<line x1="630.2" y1="356" x2="630.2" y2="385.5"/>
<line x1="631.6" y1="343.5" x2="631.6" y2="462"/>
<line x1="569.5" y1="385.5" x2="569.5" y2="412" stroke-width="1.8"/>
<line x1="629" y1="385.5" x2="629" y2="412" stroke-width="1.8"/>
<line x1="486" y1="376.7" x2="599.3" y2="376.7"/>
<line x1="499" y1="385.5" x2="628" y2="385.5"/>
<line x1="523" y1="403" x2="575.7" y2="403"/>
<line x1="535" y1="409.4" x2="638.3" y2="409.4"/>
<line x1="569.5" y1="408.1" x2="629" y2="408.1"/>
<line x1="510.6" y1="453.3" x2="665" y2="453.3"/>
<line x1="486" y1="504.5" x2="628" y2="504.5"/>
<line x1="488.4" y1="376.7" x2="488.4" y2="504.5"/>
<path class="a" d="M488.4,376.7 L489.7,382.5 L487.1,382.5 Z"/>
<path class="a" d="M488.4,504.5 L487.1,498.7 L489.7,498.7 Z"/>
<text transform="translate(487.2,438.5) rotate(-90)" text-anchor="middle" style="font-size:10px">317.5</text>
<line x1="502.2" y1="385.5" x2="502.2" y2="504.5"/>
<path class="a" d="M502.2,385.5 L503.5,391.3 L500.9,391.3 Z"/>
<path class="a" d="M502.2,504.5 L500.9,498.7 L503.5,498.7 Z"/>
<text transform="translate(501,441.8) rotate(-90)" text-anchor="middle" style="font-size:10px">295</text>
<line x1="514.6" y1="385.5" x2="514.6" y2="453.3"/>
<path class="a" d="M514.6,385.5 L515.9,391.3 L513.3,391.3 Z"/>
<path class="a" d="M514.6,453.3 L513.3,447.5 L515.9,447.5 Z"/>
<text transform="translate(513.4,417.5) rotate(-90)" text-anchor="middle" style="font-size:10px">167.5</text>
<line x1="514.6" y1="453.3" x2="514.6" y2="504.5"/>
<path class="a" d="M514.6,453.3 L515.9,459.1 L513.3,459.1 Z"/>
<path class="a" d="M514.6,504.5 L513.3,498.7 L515.9,498.7 Z"/>
<text transform="translate(513.4,477) rotate(-90)" text-anchor="middle" style="font-size:10px">127.5</text>
<line x1="526.4" y1="403" x2="526.4" y2="453.3"/>
<path class="a" d="M526.4,403 L527.7,408.8 L525.1,408.8 Z"/>
<path class="a" d="M526.4,453.3 L525.1,447.5 L527.7,447.5 Z"/>
<text transform="translate(525.2,425.7) rotate(-90)" text-anchor="middle" style="font-size:10px">125</text>
<line x1="526.4" y1="453.3" x2="526.4" y2="487.2"/>
<path class="a" d="M526.4,453.3 L527.7,459.1 L525.1,459.1 Z"/>
<path class="a" d="M526.4,487.2 L525.1,481.4 L527.7,481.4 Z"/>
<text transform="translate(525.2,469.4) rotate(-90)" text-anchor="middle" style="font-size:10px">85</text>
<line x1="538.2" y1="409.4" x2="538.2" y2="453.3"/>
<path class="a" d="M538.2,409.4 L539.5,415.2 L536.9,415.2 Z"/>
<path class="a" d="M538.2,453.3 L536.9,447.5 L539.5,447.5 Z"/>
<text transform="translate(537,430.5) rotate(-90)" text-anchor="middle" style="font-size:10px">110</text>
<line x1="538.2" y1="468" x2="538.2" y2="499.4"/>
<path class="a" d="M538.2,484.4 L536.9,478.6 L539.5,478.6 Z"/>
<path class="a" d="M538.2,490 L539.5,495.8 L536.9,495.8 Z"/>
<text transform="translate(537,472) rotate(-90)" text-anchor="middle" style="font-size:10px">14</text>
<line x1="523" y1="487.2" x2="575" y2="487.2"/>
<line x1="535.6" y1="484.4" x2="570" y2="484.4"/>
<line x1="535.6" y1="490" x2="570" y2="490"/>
<path d="M576.7,385.5 A32.4,32.4 0 0 1 621.9,385.5"/>
<circle cx="599.3" cy="409.1" r="14.8"/>
<circle cx="575.7" cy="403" r="2.8"/>
<line x1="571.3" y1="403" x2="580.1" y2="403"/>
<line x1="575.7" y1="398.6" x2="575.7" y2="407.4"/>
<circle cx="621.9" cy="403" r="2.8"/>
<line x1="617.5" y1="403" x2="626.3" y2="403"/>
<line x1="621.9" y1="398.6" x2="621.9" y2="407.4"/>
<line x1="599.3" y1="372.2" x2="599.3" y2="510.8"/>
<path d="M571.6,411.2 L575.7,415.3 L575.7,475.4 L569.5,479.7"/>
<path d="M627,411.2 L622.9,415.3 L622.9,475.4 L629,479.7"/>
<path d="M578,411.2 A21.5,21.5 0 0 0 620.6,411.2"/>
<path d="M569.5,479.7 Q599.3,475.5 629,479.7"/>
<path d="M566.4,413.3 C559,414 557.5,428 557.8,435 C558.2,446 561,455 567.5,459.5"/>
<path d="M632.1,413.3 C639.5,414 641.3,428 641,435 C640.6,446 637.5,455 631.1,459.5"/>
<line x1="567.4" y1="462" x2="567.4" y2="492"/>
<line x1="569.4" y1="479.7" x2="569.4" y2="540.5"/>
<line x1="630" y1="462" x2="630" y2="492"/>
<line x1="628.3" y1="479.7" x2="628.3" y2="540.5"/>
<circle cx="575.4" cy="487.2" r="2.8"/>
<line x1="571.2" y1="487.2" x2="579.6" y2="487.2"/>
<line x1="575.4" y1="483" x2="575.4" y2="491.4"/>
<circle cx="622.5" cy="487.2" r="2.8"/>
<line x1="618.3" y1="487.2" x2="626.7" y2="487.2"/>
<line x1="622.5" y1="483" x2="622.5" y2="491.4"/>
<line x1="575.4" y1="487.2" x2="575.4" y2="528"/>
<line x1="622.5" y1="487.2" x2="622.5" y2="528"/>
<line x1="632.1" y1="427.3" x2="664" y2="427.3"/>
<line x1="630" y1="479.5" x2="664" y2="479.5"/>
<line x1="661.2" y1="427.3" x2="661.2" y2="479.5"/>
<path class="a" d="M661.2,427.3 L662.5,433.1 L659.9,433.1 Z"/>
<path class="a" d="M661.2,479.5 L659.9,473.7 L662.5,473.7 Z"/>
<text transform="translate(659.9,453.9) rotate(-90)" text-anchor="middle" style="font-size:10px">130h8</text>
<line x1="575.4" y1="525.3" x2="622.5" y2="525.3"/>
<path class="a" d="M575.4,525.3 L581.2,524 L581.2,526.6 Z"/>
<path class="a" d="M622.5,525.3 L616.7,526.6 L616.7,524 Z"/>
<text x="599.3" y="524.1" text-anchor="middle" style="font-size:10px">115</text>
<line x1="569.4" y1="537.6" x2="628.3" y2="537.6"/>
<path class="a" d="M569.4,537.6 L575.2,536.3 L575.2,538.9 Z"/>
<path class="a" d="M628.3,537.6 L622.5,538.9 L622.5,536.3 Z"/>
<text x="599.3" y="536.4" text-anchor="middle" style="font-size:10px">144</text>
</svg>
</body></html>
